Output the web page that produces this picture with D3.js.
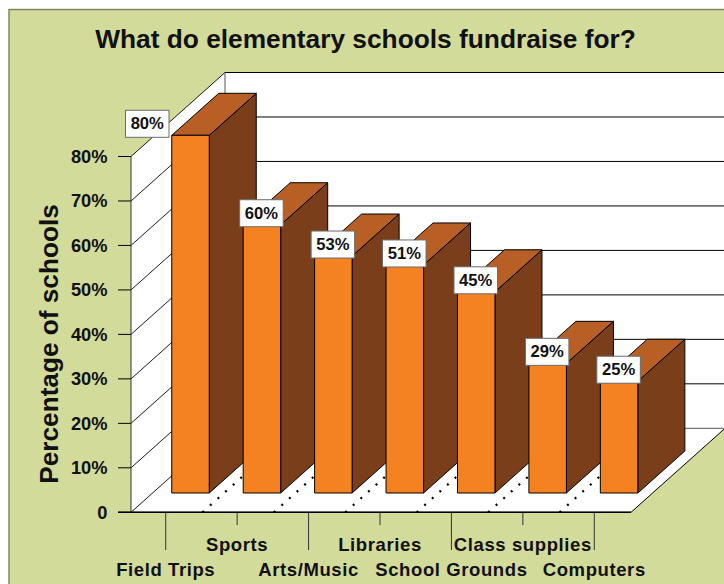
<!DOCTYPE html>
<html>
<head>
<meta charset="utf-8">
<script src="https://cdn.jsdelivr.net/npm/d3@7"></script>
<style>
html,body{margin:0;padding:0;background:#fff;overflow:hidden}
text{font-family:"Liberation Sans",Arial,sans-serif;font-weight:bold;fill:#111}
</style>
</head>
<body>
<svg id="chart" width="724" height="584"></svg>
<script>
const categories = ["Field Trips","Sports","Arts/Music","Libraries","School Grounds","Class supplies","Computers"];
const values = [80,60,53,51,45,29,25];
const yTicks = [0,10,20,30,40,50,60,70,80];
const yTickLabels = ["0","10%","20%","30%","40%","50%","60%","70%","80%"];

const svg = d3.select("#chart");
const W = 724, H = 584;

// Front plane of the 3D box, with a shear for depth (0 = front, 1 = back wall)
const x = d3.scaleBand().domain(categories).range([131,631]);
const y = d3.scaleLinear().domain([0,80]).range([512.3,156.5]);
const yBar = d3.scaleLinear().domain([0,80]).range([493,135.3]);
const DX = 94, DY = -84;
const px = (xv,d) => xv + d*DX;
const py = (yv,d) => y(yv) + d*DY;
const pt = (xv,yv,d) => [px(xv,d),py(yv,d)];
const poly = pts => "M" + pts.map(p=>p.join(",")).join("L") + "Z";
const line = pts => "M" + pts.map(p=>p.join(",")).join("L");

const BG = "#D3DB9B", INK = "#000";

// Chart area panel
svg.append("rect").attr("x",9).attr("y",9.5).attr("width",W).attr("height",H)
  .attr("fill",BG).attr("stroke","#7d8157").attr("stroke-width",1.4);

const x0 = x.range()[0], x1 = x.range()[1];

// Back wall, side wall, floor
svg.append("path").attr("d",poly([pt(x0,80,1),pt(x1+200,80,1),pt(x1+200,0,1),pt(x0,0,1)])).attr("fill","#fff");
svg.append("path").attr("d",poly([pt(x0,80,0),pt(x0,80,1),pt(x0,0,1),pt(x0,0,0)])).attr("fill","#fff");
svg.append("path").attr("d",poly([pt(x0,0,0),pt(x1,0,0),pt(x1,0,1),pt(x0,0,1)])).attr("fill","#fff");

// Gridlines on both walls
yTicks.forEach(t=>{
  if(t>0) svg.append("path").attr("d",line([pt(x0,t,1),[W,py(t,1)]])).attr("stroke",INK).attr("fill","none");
  svg.append("path").attr("d",line([pt(x0,t,0),pt(x0,t,1)])).attr("stroke",INK).attr("fill","none").attr("stroke-width",0.9);
  svg.append("path").attr("d",line([[x0-13,y(t)],[x0,y(t)]])).attr("stroke",INK).attr("fill","none");
});
svg.append("path").attr("d",line([pt(x0,0,1),[W,py(0,1)]])).attr("stroke","#555").attr("fill","none");
svg.append("path").attr("d",line([pt(x0,80,1),pt(x0,0,1)])).attr("stroke","#555").attr("fill","none");
svg.append("path").attr("d",line([pt(x0,80,0),pt(x0,0,0)])).attr("stroke","#333").attr("fill","none");

// Dotted floor lines along the category boundaries
categories.forEach((c,i)=>{
  if(i===0) return;
  const bx = x0 + x.step()*i;
  svg.append("path").attr("d",line([pt(bx,0,0),pt(bx,0,1)]))
    .attr("stroke",INK).attr("fill","none").attr("stroke-width",2.2).attr("stroke-dasharray","2 8.2");
});

// Floor front and right edges
svg.append("path").attr("d",line([pt(x0,0,0),pt(x1,0,0),pt(x1,0,1),[W,py(0,1)]])).attr("stroke",INK).attr("fill","none");
svg.append("path").attr("d",line([[x0-13,y(0)],pt(x1,0,0)])).attr("stroke",INK).attr("stroke-width",1.4).attr("fill","none");

// Bars: side, top, then front face
const BAR_W = 37.5, BAR_CX = 23.8, BAR_DEPTH = 0.5;
const barColors = {front:"#F58220", side:"#7A3E1A", top:"#B85F26"};
const barCenter = c => x(c) + x.bandwidth()/2 + BAR_CX;
const g = svg.append("g").selectAll("g").data(categories).join("g");
g.each(function(c,i){
  const v = values[i];
  const l = barCenter(c)-BAR_W/2, r = barCenter(c)+BAR_W/2;
  const bx = BAR_DEPTH*DX, by = BAR_DEPTH*DY;
  const s = d3.select(this);
  const add = (pts,f) => s.append("path").attr("d",poly(pts)).attr("fill",f)
    .attr("stroke","#000").attr("stroke-width",1).attr("stroke-linejoin","miter");
  add([[r,yBar(0)],[r+bx,yBar(0)+by],[r+bx,yBar(v)+by],[r,yBar(v)]],barColors.side);
  add([[l,yBar(v)],[r,yBar(v)],[r+bx,yBar(v)+by],[l+bx,yBar(v)+by]],barColors.top);
  add([[l,yBar(0)],[r,yBar(0)],[r,yBar(v)],[l,yBar(v)]],barColors.front);
});

// Value labels in white boxes; the tallest one sits beside its bar
const fmt = v => v + "%";
categories.forEach((c,i)=>{
  const v = values[i];
  const cx = barCenter(c);
  const boxW = 43.5, boxH = 27;
  const left = (i===0 ? cx-65 : cx-boxW/2-0.5);
  const bottom = yBar(v)+2;
  svg.append("rect").attr("x",left).attr("y",bottom-boxH).attr("width",boxW).attr("height",boxH)
    .attr("fill","#fff").attr("stroke","#6b6b6b").attr("stroke-width",1);
  svg.append("text").attr("x",left+boxW/2).attr("y",bottom-8).attr("text-anchor","middle")
    .attr("font-size",16.6).text(fmt(v));
});

// Y axis tick labels
yTicks.forEach((t,i)=>{
  svg.append("text").attr("x",107.5).attr("y",y(t)+6.5).attr("text-anchor","end").attr("font-size",18.3).text(yTickLabels[i]);
});

// Category ticks and staggered labels
categories.forEach((c,i)=>{
  const tx = x(c) + x.bandwidth()/2 - 1;
  const low = i%2===0;
  svg.append("path").attr("d",line([[tx,y(0)],[tx,low?550:525]])).attr("stroke","#333").attr("fill","none");
  svg.append("text").attr("x",tx).attr("y",low?575.5:550.5).attr("text-anchor","middle")
    .attr("font-size",18.5).attr("letter-spacing",0.6).text(c);
});

// Titles
svg.append("text").attr("x",365.5).attr("y",48).attr("text-anchor","middle").attr("font-size",26.3).text("What do elementary schools fundraise for?");
svg.append("text").attr("transform","translate(57.5,344) rotate(-90)").attr("text-anchor","middle").attr("font-size",26.2).text("Percentage of schools");
</script>
</body>
</html>
